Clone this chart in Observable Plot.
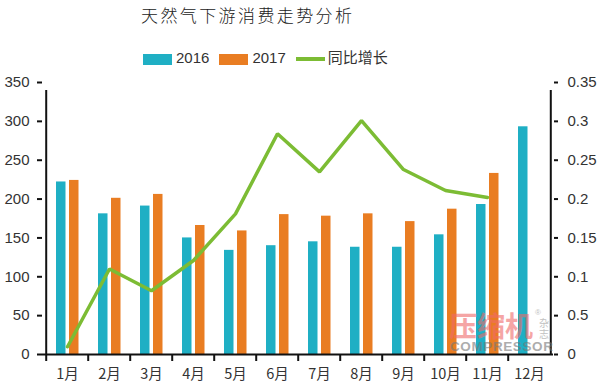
<!DOCTYPE html>
<html>
<head>
<meta charset="utf-8">
<script src="https://cdn.jsdelivr.net/npm/d3@7"></script>
<script src="https://cdn.jsdelivr.net/npm/@observablehq/plot@0.6"></script>
<style>
  html, body { margin: 0; padding: 0; background: #fff; }
  #wrap { position: relative; width: 600px; height: 386px; overflow: hidden; font-family: "Liberation Sans", "Noto Sans CJK SC", sans-serif; }
  #title { position: absolute; left: 141px; top: 2px; font-family: "Noto Sans CJK SC", serif; font-weight: 300; font-size: 17px; letter-spacing: 2.4px; color: #222; white-space: nowrap; }
  #legend { position: absolute; left: 143px; top: 46px; font-size: 15px; color: #333; white-space: nowrap; font-family: "Liberation Sans", "Noto Sans CJK SC", sans-serif; }
  .sw { display: inline-block; width: 29px; height: 11px; vertical-align: middle; margin-right: 4px; }
  .ln { display: inline-block; width: 29px; height: 4px; vertical-align: middle; margin-right: 3px; }
  .item { display: inline-block; margin-right: 10px; }
  #chart { position: absolute; left: 0; top: 70px; }
  #wm { position: absolute; left: 449px; top: 312px; opacity: 0.6; pointer-events: none; }
  #wm .cn { font-family: "Noto Sans CJK SC"; font-weight: bold; font-size: 28px; color: #f06a6a; line-height: 27px; height: 27px; }
  #wm .en { position: absolute; left: 1px; top: 28px; font-family: "Liberation Sans"; font-weight: bold; font-size: 13.5px; line-height: 13px; color: #777; letter-spacing: 0.6px; }
  #wm .zz { position: absolute; left: 90px; top: 5px; font-family: "Noto Sans CJK SC"; font-size: 10px; color: #999; line-height: 11px; width: 10px; }
  #wm .r { position: absolute; left: 86px; top: -3px; font-size: 8px; line-height: 8px; color: #999; }
</style>
</head>
<body>
<div id="wrap">
  <div id="title"></div>
  <div id="legend"></div>
  <div id="chart"></div>
  <div id="wm"><div class="cn">压缩机</div><div class="r">®</div><div class="zz">杂志</div><div class="en">COMPRESSOR</div></div>
</div>
<script>
const titleText = "天然气下游消费走势分析";
const months = ["1月","2月","3月","4月","5月","6月","7月","8月","9月","10月","11月","12月"];
const v2016 = [222, 181, 191, 150, 134, 140, 145, 138, 138, 154, 193, 293];
const v2017 = [224, 201, 206, 166, 159, 180, 178, 181, 171, 187, 233, null];
const growth = [0.01, 0.11, 0.082, 0.121, 0.181, 0.284, 0.235, 0.301, 0.238, 0.211, 0.202, null];
const leftTicks = [0, 50, 100, 150, 200, 250, 300, 350];
const rightTickValues = [0, 0.05, 0.1, 0.15, 0.2, 0.25, 0.3, 0.35];
const rightTickLabels = ["0", "0.5", "0.1", "0.15", "0.2", "0.25", "0.3", "0.35"];
const seriesNames = ["2016", "2017", "同比增长"];
const colors = { "2016": "#1fafc4", "2017": "#e97d22", "同比增长": "#7cbc34" };

document.getElementById("title").textContent = titleText;
const leg = document.getElementById("legend");
seriesNames.forEach((s, i) => {
  const item = document.createElement("span");
  item.className = "item";
  const sw = document.createElement("span");
  sw.className = i < 2 ? "sw" : "ln";
  sw.style.background = colors[s];
  item.appendChild(sw);
  item.appendChild(document.createTextNode(s));
  leg.appendChild(item);
});

// right axis ratio: 0.35 maps to 350
const k = 1000;
const bars16 = months.map((m, i) => ({ m, v: v2016[i] })).filter(d => d.v != null);
const bars17 = months.map((m, i) => ({ m, v: v2017[i] })).filter(d => d.v != null);
const line = months.map((m, i) => ({ m, g: growth[i] })).filter(d => d.g != null);

const W = 600, ML = 42, MR = 47;
const bw = (W - ML - MR) / months.length;

const chart = Plot.plot({
  width: W,
  height: 316,
  marginLeft: ML,
  marginRight: MR,
  marginTop: 12,
  marginBottom: 32,
  style: { fontFamily: "Liberation Sans, Noto Sans CJK SC, sans-serif", fontSize: "15px", color: "#333", background: "transparent" },
  x: { domain: months, padding: 0, axis: null },
  y: { domain: [0, 350], axis: null },
  marks: [
    Plot.barY(bars16, { x: "m", y: "v", fill: colors["2016"], insetLeft: 10, insetRight: 22.5 }),
    Plot.barY(bars17, { x: "m", y: "v", fill: colors["2017"], insetLeft: 23, insetRight: 9.5 }),
    Plot.line(line, { x: "m", y: d => d.g * k, stroke: colors["同比增长"], strokeWidth: 3.5, strokeLinejoin: "miter" }),
    // axes
    Plot.axisY({ anchor: "left", label: null, ticks: leftTicks, tickSize: 5, tickPadding: 8, stroke: "#111", strokeWidth: 2, fontSize: 15, fill: "#333" }),
    Plot.axisY({ anchor: "right", label: null, ticks: rightTickValues.map(v => v * k), tickSize: 4, tickPadding: 10, stroke: "#111", strokeWidth: 2, fontSize: 15, fill: "#333",
      tickFormat: d => rightTickLabels[rightTickValues.findIndex(v => Math.abs(v * k - d) < 1e-6)] }),
    Plot.axisX({ label: null, ticks: months, tickSize: 7, tickFormat: null, dx: -bw / 2, stroke: "#111", strokeWidth: 2 }),
    Plot.axisX({ label: null, ticks: months, tickSize: 0, tickPadding: 14, fontSize: 14.5, fill: "#333", fontFamily: "Noto Sans CJK SC" }),
    Plot.ruleY([0], { stroke: "#111", strokeWidth: 2 }),
    Plot.ruleX([months[0]], { x: d => d, dx: -bw / 2, y1: 0, y2: 350, stroke: "#111", strokeWidth: 2, insetBottom: -8 }),
    Plot.ruleX([months[months.length - 1]], { x: d => d, dx: bw / 2, y1: 0, y2: 350, stroke: "#111", strokeWidth: 2, insetBottom: -8 })
  ]
});
document.getElementById("chart").appendChild(chart);
</script>
</body>
</html>
